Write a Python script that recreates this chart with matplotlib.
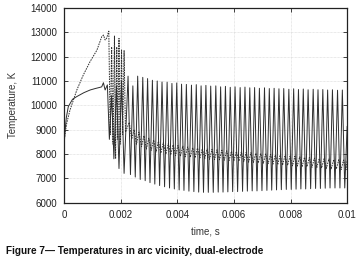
import numpy as np
import matplotlib
matplotlib.use("Agg")
import matplotlib.pyplot as plt

plt.rcParams['font.family'] = ['Liberation Sans', 'DejaVu Sans']

# --- start-up part ---
solid_start_t = [0.0, 0.00003, 0.00008, 0.00015, 0.0003, 0.00045, 0.0007, 0.00092, 0.0011,
                 0.00127, 0.00133, 0.00139, 0.00145, 0.00153,
                 0.00160, 0.00168, 0.00176, 0.00185, 0.00194, 0.00203, 0.00212]
solid_start_T = [8300, 8900, 9500, 9950, 10250, 10360, 10520, 10630, 10690,
                 10740, 10760, 10930, 10630, 10840,
                 8600, 10400, 7800, 10800, 7400, 11000, 7200]

dash_start_t = [0.0, 0.00005, 0.0001, 0.00021, 0.00045, 0.00068, 0.00092, 0.00116, 0.00133,
                0.00139, 0.00145, 0.0015,
                0.00158, 0.00163, 0.00168, 0.00173, 0.00178, 0.00182, 0.00186, 0.00190,
                0.00194, 0.00198, 0.00203, 0.00207, 0.00212, 0.00217]
dash_start_T = [8500, 8950, 9300, 9810, 10630, 11250, 11800, 12270, 12820,
                12890, 12690, 12750,
                13050, 8800, 12400, 8400, 12850, 7800, 12400, 8600,
                12750, 8400, 12300, 8800, 12250, 8900]

# --- periodic part: one entry per cycle ---
peak_t = [0.00226, 0.00243, 0.00260, 0.00278, 0.00295, 0.00312, 0.00329, 0.00346, 0.00364,
          0.00381, 0.00398, 0.00415, 0.00432, 0.00450, 0.00467, 0.00484, 0.00501, 0.00518,
          0.00536, 0.00553, 0.00570, 0.00587, 0.00604, 0.00622, 0.00639, 0.00656, 0.00673,
          0.00690, 0.00708, 0.00725, 0.00742, 0.00759, 0.00776, 0.00794, 0.00811, 0.00828,
          0.00845, 0.00862, 0.00880, 0.00897, 0.00914, 0.00931, 0.00948, 0.00966, 0.00983]
solid_peak = [11200, 10800, 11200, 11150, 11100, 11030, 11000, 10960, 10950,
              10900, 10920, 10870, 10860, 10830, 10850, 10800, 10820, 10790,
              10800, 10760, 10780, 10740, 10760, 10730, 10750, 10720, 10730,
              10700, 10720, 10690, 10700, 10680, 10690, 10660, 10680, 10650,
              10670, 10640, 10660, 10640, 10650, 10630, 10640, 10620, 10630]
solid_trough = [7150, 7050, 6950, 6900, 6820, 6760, 6700, 6650, 6600,
                6560, 6520, 6500, 6470, 6450, 6430, 6420, 6420, 6420,
                6430, 6430, 6440, 6450, 6450, 6460, 6470, 6480, 6480,
                6490, 6500, 6510, 6520, 6530, 6540, 6540, 6550, 6560,
                6560, 6570, 6580, 6580, 6590, 6600, 6600, 6600, 6600]
dash_high = [9300, 9000, 8900, 8750, 8650, 8580, 8520, 8470, 8430,
             8380, 8350, 8320, 8290, 8260, 8240, 8220, 8200, 8190,
             8170, 8150, 8130, 8110, 8100, 8080, 8060, 8050, 8030,
             8010, 8000, 7980, 7960, 7950, 7930, 7910, 7900, 7880,
             7860, 7850, 7830, 7810, 7800, 7790, 7770, 7760, 7750]
dash_low = [8600, 8400, 8300, 8200, 8150, 8080, 8030, 7990, 7960,
            7930, 7900, 7880, 7860, 7840, 7820, 7800, 7780, 7770,
            7760, 7740, 7730, 7710, 7700, 7680, 7660, 7650, 7630,
            7610, 7600, 7580, 7560, 7540, 7530, 7510, 7500, 7480,
            7470, 7450, 7440, 7420, 7410, 7390, 7380, 7360, 7350]

# build zig-zag vertices
pt = np.array(peak_t)
half = np.diff(pt, append=pt[-1] + (pt[-1] - pt[-2])) / 2
s_t, s_T, d_t, d_T = list(solid_start_t), list(solid_start_T), list(dash_start_t), list(dash_start_T)
for i in range(len(pt)):
    s_t += [pt[i], pt[i] + half[i]]
    s_T += [solid_peak[i], solid_trough[i]]
    d_t += [pt[i] + 0.5 * half[i], pt[i] + 1.5 * half[i]]
    d_T += [dash_high[i], dash_low[i]]
s_t.append(0.01); s_T.append(solid_peak[-1] - 1500)
d_t.append(0.01); d_T.append(dash_high[-1])

fig = plt.figure(figsize=(3.62, 2.69), dpi=100)
ax = fig.add_axes([0.177, 0.247, 0.782, 0.723])

ax.plot(s_t, s_T, color='#2e2e2e', lw=0.7)
ax.plot(d_t, d_T, color='#2e2e2e', lw=0.7, dashes=(1.6, 1.0))

ax.set_xlim(0, 0.01)
ax.set_ylim(6000, 14000)
ax.set_xticks([0, 0.002, 0.004, 0.006, 0.008, 0.01])
ax.set_xticklabels(['0', '0.002', '0.004', '0.006', '0.008', '0.01'])
ax.set_yticks(range(6000, 14001, 1000))
ax.grid(True, color='#d4d4d4', lw=0.5, ls=(0, (1, 1)))
ax.set_axisbelow(True)
ax.tick_params(direction='in', top=True, right=True, length=3, width=0.6,
               labelsize=7, colors='#222222', pad=5)
for sp in ax.spines.values():
    sp.set_linewidth(0.9)
    sp.set_color('#222222')

ax.set_xlabel('time, s', fontsize=7, color='#333333', labelpad=5)
ax.set_ylabel('Temperature, K', fontsize=7, color='#333333', labelpad=9)

fig.text(0.017, 0.055, 'Figure 7\u2014 Temperatures in arc vicinity, dual-electrode',
         fontsize=7.2, fontweight='bold', color='#111111')

fig.savefig('out.png', dpi=100)
